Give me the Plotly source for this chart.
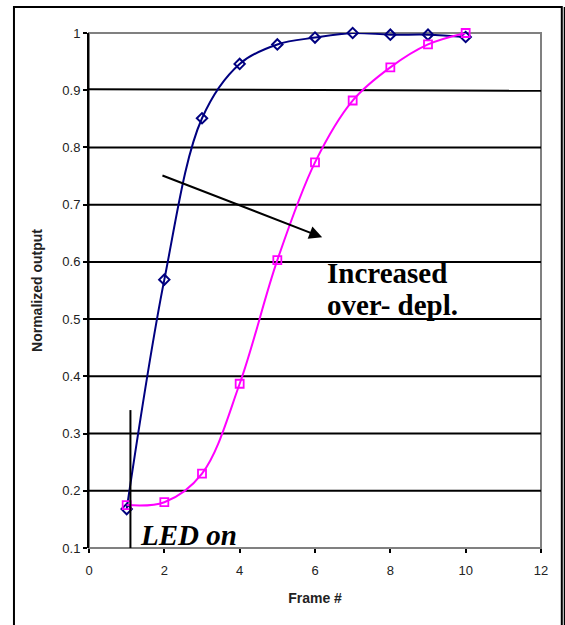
import plotly.graph_objects as go

frames = [1, 2, 3, 4, 5, 6, 7, 8, 9, 10]
normal_out = [0.168, 0.569, 0.851, 0.946, 0.980, 0.992, 1.000, 0.997, 0.997, 0.993]
overdepl_out = [0.175, 0.180, 0.230, 0.387, 0.603, 0.774, 0.882, 0.940, 0.980, 1.000]

y_ticks = [0.1, 0.2, 0.3, 0.4, 0.5, 0.6, 0.7, 0.8, 0.9, 1.0]
y_tick_text = ["0.1", "0.2", "0.3", "0.4", "0.5", "0.6", "0.7", "0.8", "0.9", "1"]
x_ticks = [0, 2, 4, 6, 8, 10, 12]
grid_levels = [0.2, 0.3, 0.4, 0.5, 0.6, 0.7, 0.8]

fig = go.Figure()
fig.add_trace(go.Scatter(
    x=frames, y=normal_out, mode="lines+markers",
    line=dict(color="#000080", width=2, shape="spline", smoothing=1.0),
    marker=dict(symbol="diamond-open", size=8, color="#000080", line=dict(width=2, color="#000080")),
    showlegend=False, cliponaxis=False))
fig.add_trace(go.Scatter(
    x=frames, y=overdepl_out, mode="lines+markers",
    line=dict(color="#FF00FF", width=2, shape="spline", smoothing=1.0),
    marker=dict(symbol="square-open", size=8, color="#FF00FF", line=dict(width=1.8, color="#FF00FF")),
    showlegend=False, cliponaxis=False))

shapes = []
for g in grid_levels:
    shapes.append(dict(type="line", xref="x", yref="y", x0=0, x1=12, y0=g, y1=g,
                       line=dict(color="black", width=2), layer="below"))
# slightly tilted 0.9 line, as drawn in the original
shapes.append(dict(type="line", xref="x", yref="y", x0=0, x1=12, y0=0.9016, y1=0.899,
                   line=dict(color="black", width=2), layer="below"))
# plot-area border (gray)
shapes.append(dict(type="rect", xref="paper", yref="paper", x0=0, x1=1, y0=0, y1=1,
                   line=dict(color="#808080", width=2), layer="below"))
# LED on vertical marker line
shapes.append(dict(type="line", xref="x", yref="y", x0=1.1, x1=1.1, y0=0.094, y1=0.341,
                   line=dict(color="black", width=2), layer="above"))
# outer chart border
shapes.append(dict(type="rect", xref="paper", yref="paper", x0=-0.166, x1=1.046, y0=-0.2, y1=1.0505,
                   line=dict(color="black", width=2)))
shapes.append(dict(type="line", xref="paper", yref="paper", x0=1.058, x1=1.058, y0=-0.2, y1=1.0505,
                   line=dict(color="black", width=7)))

annotations = [
    dict(x=6.19, y=0.643, ax=1.91, ay=0.752, xref="x", yref="y", axref="x", ayref="y",
         showarrow=True, arrowhead=2, arrowsize=1.3, arrowwidth=2, arrowcolor="black", text=""),
    dict(x=6.27, y=0.580, xref="x", yref="y", xanchor="left", yanchor="middle", showarrow=False,
         text="<b>Increased</b>", font=dict(family="Liberation Serif", size=29, color="black")),
    dict(x=6.27, y=0.524, xref="x", yref="y", xanchor="left", yanchor="middle", showarrow=False,
         text="<b>over- depl.</b>", font=dict(family="Liberation Serif", size=29, color="black")),
    dict(x=1.3, y=0.102, xref="x", yref="y", xanchor="left", yanchor="bottom", showarrow=False,
         text="<b><i>LED on</i></b>", font=dict(family="Liberation Serif", size=29, color="black"),
         yshift=-6),
]

fig.update_layout(
    width=565, height=625,
    margin=dict(l=89, r=24, t=33, b=77),
    paper_bgcolor="white", plot_bgcolor="white",
    shapes=shapes, annotations=annotations,
    xaxis=dict(range=[0, 12], tickvals=x_ticks, showgrid=False, zeroline=False,
               showline=False, ticks="outside", ticklen=4, tickcolor="black", tickwidth=2,
               ticklabelstandoff=6,
               tickfont=dict(family="Liberation Sans", size=13, color="#222"),
               title=dict(text="<b>Frame #</b>", font=dict(family="Liberation Sans", size=14, color="#222"),
                          standoff=16)),
    yaxis=dict(range=[0.1, 1.0], tickvals=y_ticks, ticktext=y_tick_text, showgrid=False,
               zeroline=False, showline=True, linecolor="black", linewidth=2,
               ticks="outside", ticklen=4, tickcolor="black", tickwidth=2,
               tickfont=dict(family="Liberation Sans", size=13, color="#222"),
               title=dict(text="<b>Normalized output</b>", font=dict(family="Liberation Sans", size=14, color="#222"),
                          standoff=16)),
)

fig.write_html("out.html")
